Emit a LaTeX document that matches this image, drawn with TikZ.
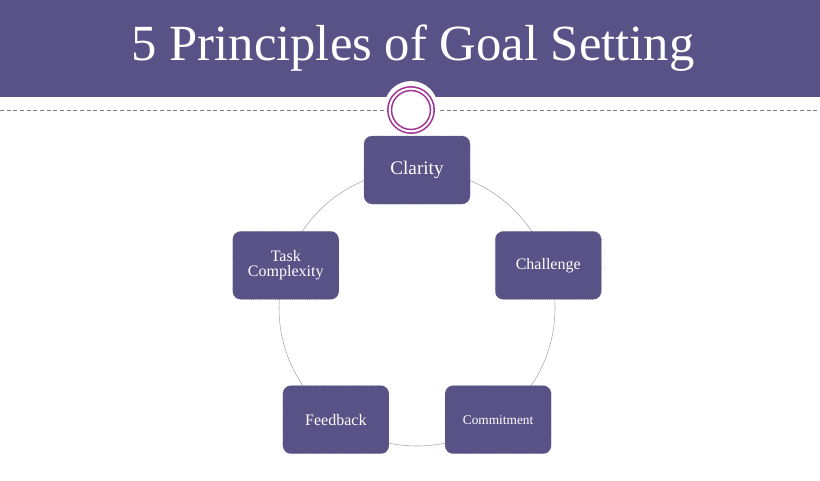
\documentclass[tikz,border=0pt]{standalone}
\usepackage{fontspec}
\setmainfont{Liberation Serif}
\usepackage{tikz}
\usetikzlibrary{calc}
\definecolor{goalpurple}{RGB}{88,82,135}
\definecolor{ringpurple}{RGB}{160,50,150}
\tikzstyle{principle} = [rectangle, rounded corners=6pt, minimum width=106*0.75pt, minimum height=68*0.75pt, text centered, align=center, draw=goalpurple!60!gray, densely dotted, fill=goalpurple, text=white, font=\large]
\tikzstyle{ring} = [draw=gray!70, thin]

\begin{document}
\begin{tikzpicture}[x=0.75pt, y=-0.75pt]
		\useasboundingbox (0,0) rectangle (820,480);
		\fill[white] (0,0) rectangle (820,480);
		
		% Banner and title
		\fill[goalpurple] (0,0) rectangle (820,97);
		\node (title) at (413,48) [text=white, font=\fontsize{38}{44}\selectfont] {5 Principles of Goal Setting};
		\draw[gray, densely dashed] (0,110) -- (820,110);
		\fill[white] (411,108) circle (27);
		\node (badge) at (411,110) [circle, draw=ringpurple, double=white, double distance=1.5pt, line width=1.2pt, minimum size=32pt] {};
		
		% Cycle
		\coordinate (hub) at (417,308);
		\draw[ring] (hub) circle (138);
		
		% Principles
		\node (clarity) at ($(hub)+(-90:138)$) [principle, font=\Large] {Clarity};
		\node (challenge) at ($(hub)+(-18:138)$) [principle] {Challenge};
		\node (commitment) at ($(hub)+(54:138)$) [principle, font=\normalsize] {Commitment};
		\node (feedback) at ($(hub)+(126:138)$) [principle] {Feedback};
		\node (complexity) at ($(hub)+(198:138)$) [principle] {Task\\[-3pt]Complexity};
		
	\end{tikzpicture}
\end{document}
